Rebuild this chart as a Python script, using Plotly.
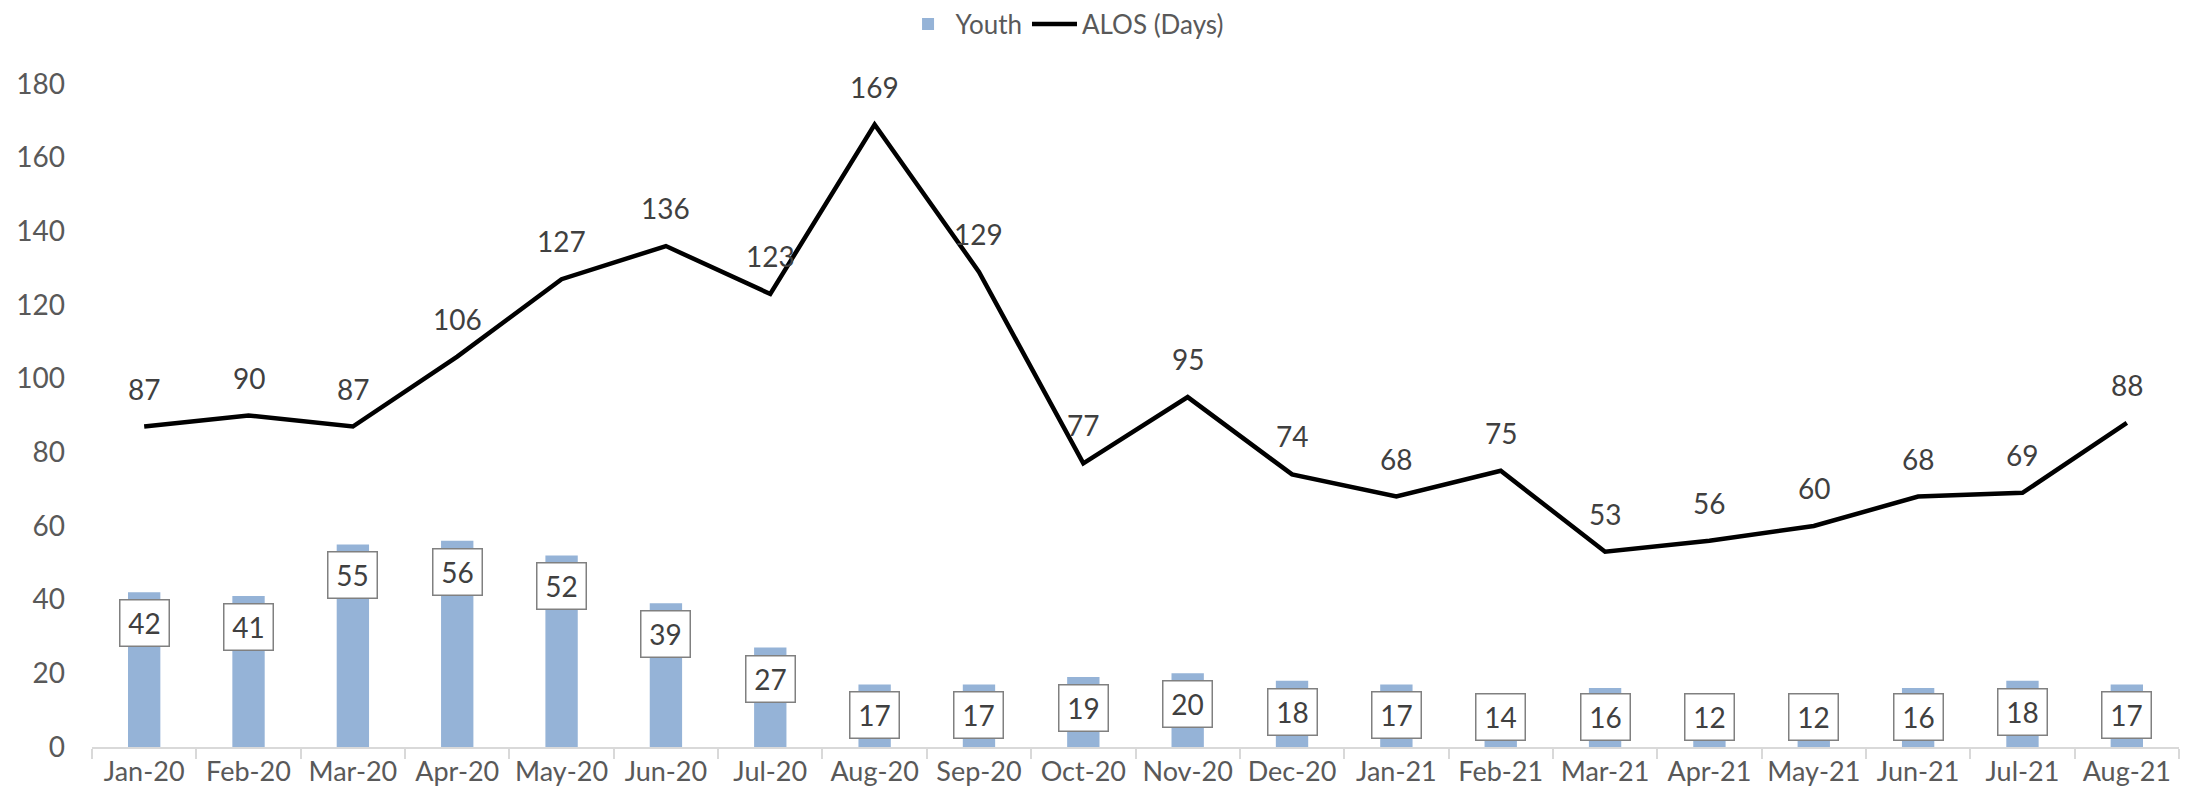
import plotly.graph_objects as go

months = ["Jan-20", "Feb-20", "Mar-20", "Apr-20", "May-20", "Jun-20", "Jul-20", "Aug-20",
          "Sep-20", "Oct-20", "Nov-20", "Dec-20", "Jan-21", "Feb-21", "Mar-21", "Apr-21",
          "May-21", "Jun-21", "Jul-21", "Aug-21"]
youth = [42, 41, 55, 56, 52, 39, 27, 17, 17, 19, 20, 18, 17, 14, 16, 12, 12, 16, 18, 17]
alos = [87, 90, 87, 106, 127, 136, 123, 169, 129, 77, 95, 74, 68, 75, 53, 56, 60, 68, 69, 88]
y_ticks = [0, 20, 40, 60, 80, 100, 120, 140, 160, 180]

FONT = "Lato"
BAR_COLOR = "#95B3D7"
LABEL_MIN = 16.6  # lowest value at which a bar label box can sit (inside-base clamp)

fig = go.Figure()
fig.add_trace(go.Bar(
    x=months, y=youth, name="Youth",
    marker=dict(color=BAR_COLOR, line=dict(width=0)),
    hoverinfo="x+y",
))
fig.add_trace(go.Scatter(
    x=months, y=alos, name="ALOS (Days)", mode="lines",
    line=dict(color="#000000", width=4.5),
))

annotations = []
for m, v in zip(months, youth):
    annotations.append(dict(
        x=m, y=max(v, LABEL_MIN), xref="x", yref="y", yanchor="top", yshift=-7,
        text=str(v), showarrow=False,
        font=dict(family=FONT, size=28, color="#404040"),
        bgcolor="#FFFFFF", bordercolor="#808080", borderwidth=1.5,
        width=46, height=43, borderpad=1,
    ))
for m, v in zip(months, alos):
    annotations.append(dict(
        x=m, y=v, xref="x", yref="y", yanchor="middle", yshift=38,
        text=str(v), showarrow=False,
        font=dict(family=FONT, size=28, color="#404040"),
    ))

fig.update_layout(
    width=2177, height=788,
    margin=dict(l=84, r=6, t=76, b=49, autoexpand=False),
    paper_bgcolor="#FFFFFF", plot_bgcolor="#FFFFFF",
    bargap=0.69,
    font=dict(family=FONT, size=28, color="#595959"),
    showlegend=True,
    legend=dict(orientation="h", x=0.466, xanchor="center", y=1.0905, yanchor="middle",
                font=dict(family=FONT, size=26, color="#595959"),
                itemwidth=45, traceorder="normal"),
    annotations=annotations,
    xaxis=dict(
        type="category", showgrid=False, showline=True, linecolor="#D9D9D9", linewidth=2,
        ticks="outside", tickson="boundaries", ticklen=10, tickcolor="#D9D9D9", tickwidth=2,
        tickangle=0, automargin=False,
        tickfont=dict(family=FONT, size=27, color="#595959"),
        range=[-0.5, len(months) - 0.5],
    ),
    yaxis=dict(
        range=[0, 180], tickvals=y_ticks, showgrid=False, showline=False, zeroline=False,
        ticks="", ticklabelstandoff=26, automargin=False,
        tickfont=dict(family=FONT, size=28, color="#595959"),
    ),
)

fig.write_html("out.html")
